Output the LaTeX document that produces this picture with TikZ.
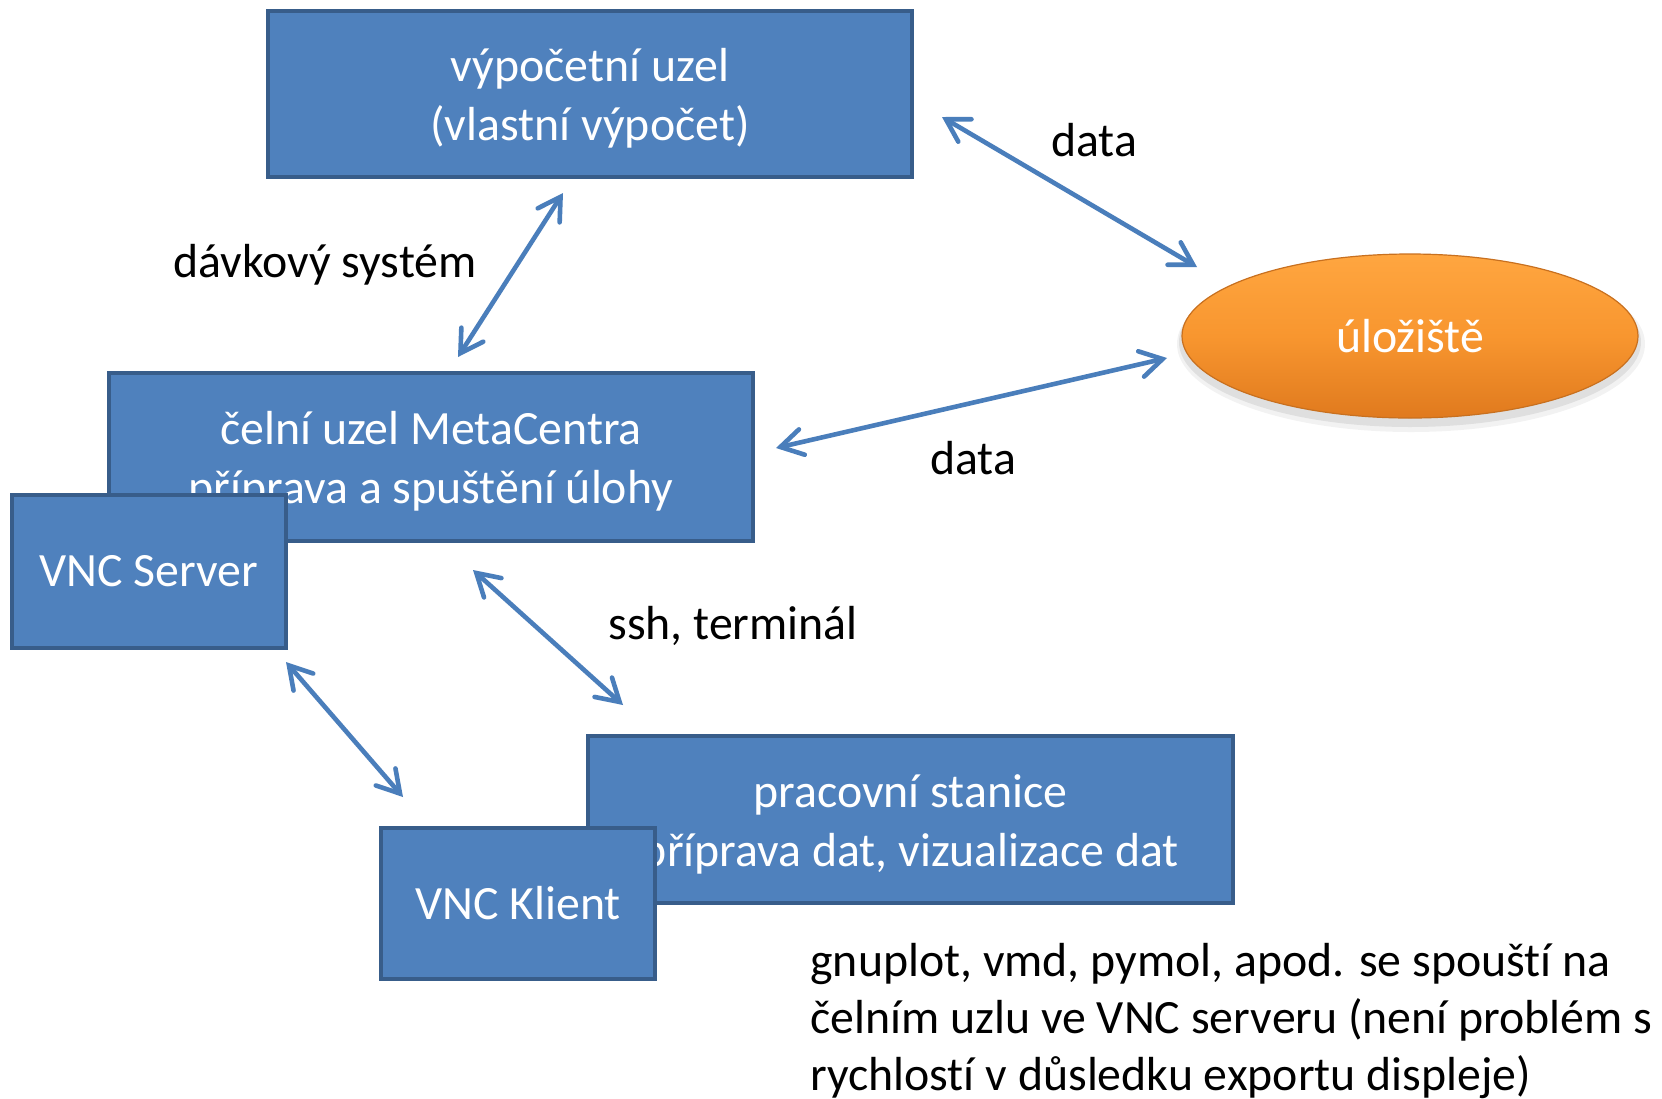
\documentclass[tikz,border=0pt]{standalone}
\usepackage{fontspec}
\setmainfont{Carlito}[Ligatures={NoCommon,NoContextual}]
\usetikzlibrary{arrows.meta,shapes.geometric,calc}
\definecolor{boxfill}{HTML}{4F81BD}
\definecolor{boxline}{HTML}{385D8A}
\definecolor{arr}{HTML}{4A7EBB}
\definecolor{orlight}{HTML}{FFA640}
\definecolor{ormid}{HTML}{F8962F}
\definecolor{ordark}{HTML}{E07A1E}
\definecolor{orline}{HTML}{C8701F}
\begin{document}
\begin{tikzpicture}[x=0.5pt,y=-0.5pt,
  txt/.style={font=\fontsize{23.9}{29.5}\selectfont},
  box/.style={draw=boxline, line width=2pt, fill=boxfill, inner sep=0pt},
  boxtxt/.style={txt, text=white, align=center, inner sep=0pt},
  conn/.style={draw=arr, line width=2.3pt, line cap=round,
    {Straight Barb[length=11pt,width=13pt,line cap=round]}-{Straight Barb[length=11pt,width=13pt,line cap=round]}},
  lbl/.style={txt, text=black, anchor=base, inner sep=0pt}]
\useasboundingbox (0,0) rectangle (1662,1099);
\fill[white] (0,0) rectangle (1662,1099);

% boxes behind
\node[box, minimum width=322pt, minimum height=83pt] (comp) at (590,94) {};
\node[boxtxt] (compt) at ($(comp.center)+(0,4)$) {výpočetní uzel\\(vlastní výpočet)};
\node[box, minimum width=322pt, minimum height=84pt] (front) at (431,457) {};
\node[boxtxt] (frontt) at ($(front.center)+(0,4)$) {čelní uzel MetaCentra\\příprava a spuštění úlohy};
\node[box, minimum width=322.5pt, minimum height=83.5pt] (work) at (910.5,819.5) {};
\node[boxtxt] (workt) at ($(work.center)+(0,5)$) {pracovní stanice\\příprava dat, vizualizace dat};
% boxes in front
\node[box, boxtxt, minimum width=137pt, minimum height=76.5pt] (vncs) at (149,571.5) {VNC Server};
\node[box, boxtxt, minimum width=137pt, minimum height=75.5pt] (vnck) at (518,903.5) {VNC Klient};

% storage ellipse
\fill[black, opacity=0.05] (1411,344) ellipse [x radius=117pt, y radius=44pt];
\fill[black, opacity=0.08] (1410,342) ellipse [x radius=115.5pt, y radius=42.5pt];
\node[ellipse, minimum width=228pt, minimum height=82pt, inner sep=0pt,
  top color=orlight, bottom color=ordark, middle color=ormid,
  draw=orline, line width=0.6pt, text=white, txt] (store) at (1410,336) {úložiště};

% connector end points
\coordinate (a1s) at (942,117);  \coordinate (a1e) at (1197,267);
\coordinate (a2s) at (563,193);  \coordinate (a2e) at (458,357);
\coordinate (a3s) at (1167,358); \coordinate (a3e) at (776,448);
\coordinate (a4s) at (473,570);  \coordinate (a4e) at (623,705);
\coordinate (a5s) at (286,662);  \coordinate (a5e) at (403,797);

\draw[conn] (a1s) -- (a1e);
\draw[conn] (a2s) -- (a2e);
\draw[conn] (a3s) -- (a3e);
\draw[conn] (a4s) -- (a4e);
\draw[conn] (a5s) -- (a5e);

% labels
\node[lbl] (l1) at (1094,156) {data};
\node[lbl] (l2) at (325,277) {dávkový systém};
\node[lbl] (l3) at (973,474) {data};
\node[lbl] (l4) at (733,639) {ssh, terminál};
\node[txt, anchor=north west, align=left, inner sep=0pt,
  font=\fontsize{23.9}{28.4}\selectfont] (note) at (810,943)
  {gnuplot, vmd, pymol, apod. se spouští na\\
   čelním uzlu ve VNC serveru (není problém s\\
   rychlostí v důsledku exportu displeje)};
\end{tikzpicture}
\end{document}
